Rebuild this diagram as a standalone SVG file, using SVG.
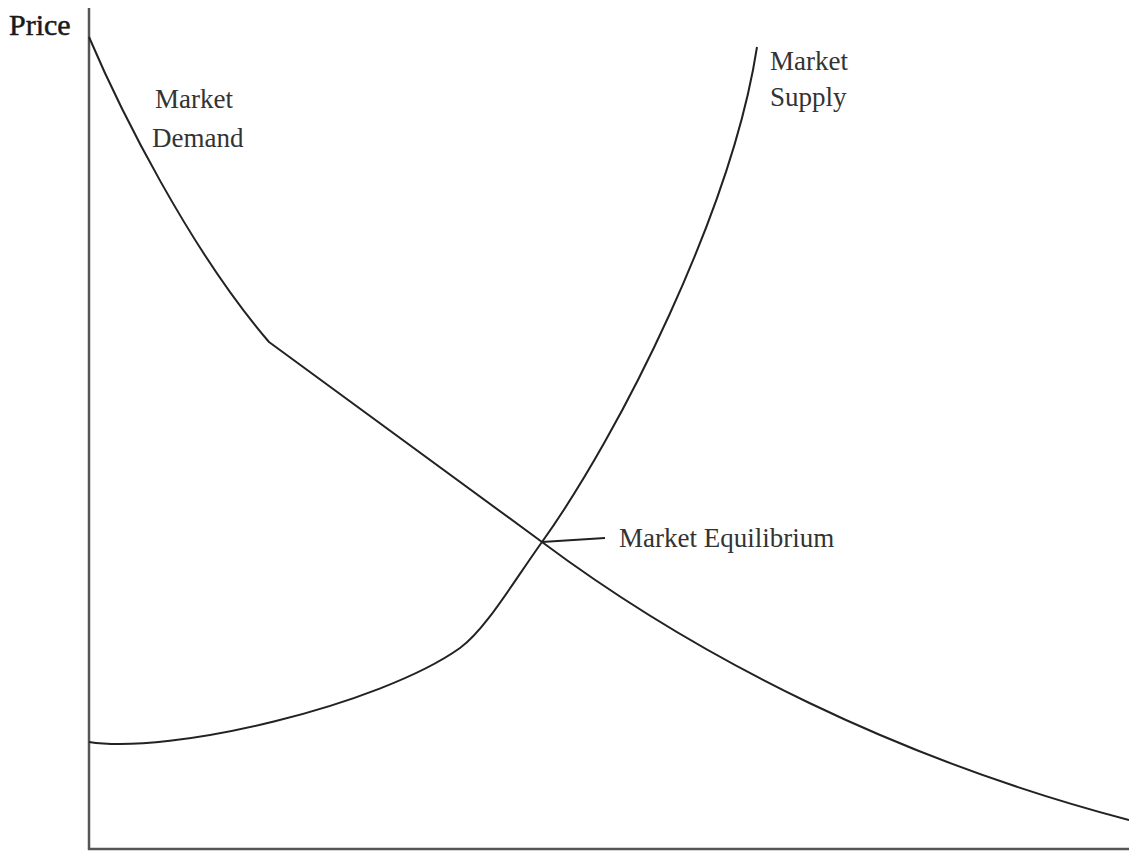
<svg xmlns="http://www.w3.org/2000/svg" width="1129" height="852" viewBox="0 0 1129 852">
<style>
.ax{stroke:#555;stroke-width:2.5;fill:none}
.c{stroke:#222;stroke-width:2;fill:none;stroke-linejoin:round}
.t{font-family:"Liberation Serif",serif;fill:#333;font-size:27px}
.p{font-size:30px;fill:#1a1a1a;stroke:#1a1a1a;stroke-width:0.5}
</style>
<rect width="1129" height="852" fill="#fff"/>
<g id="axes">
<line class="ax" x1="89" y1="8" x2="89" y2="850"/>
<line class="ax" x1="88" y1="849" x2="1129" y2="849"/>
</g>
<g id="connectors">
<path id="demand" class="c" d="M89,37 C120,110 190,250 269,342 L542,542 C700,660 900,760 1129,820"/>
<path id="supply" class="c" d="M89,742 C170,755 380,705 460,648 C485,630 512,584 542,542 C620,433 732,210 757,47"/>
<path id="leader" class="c" stroke-width="1.8" d="M542,542 L605,538"/>
</g>
<g id="price-label"><text class="t p" x="9" y="35">Price</text></g>
<g id="demand-label"><text class="t" x="155" y="108">Market</text><text class="t" x="152" y="147">Demand</text></g>
<g id="supply-label"><text class="t" x="770" y="70">Market</text><text class="t" x="770" y="106">Supply</text></g>
<g id="equilibrium-label"><text class="t" x="619" y="547">Market Equilibrium</text></g>
</svg>
